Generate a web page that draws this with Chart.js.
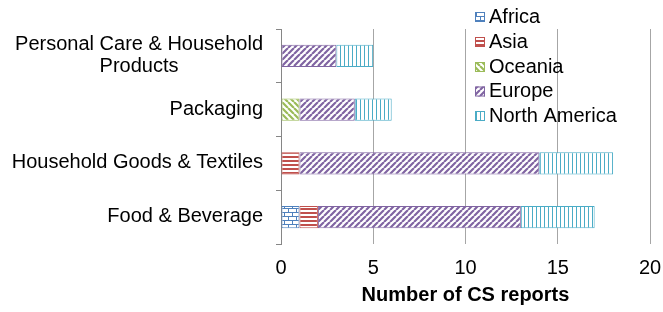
<!DOCTYPE html>
<html>
<head>
<meta charset="utf-8">
<script src="https://cdn.jsdelivr.net/npm/chart.js@4.4.0/dist/chart.umd.min.js"></script>
<style>
  html, body { margin: 0; padding: 0; background: #fff; }
  #wrap { width: 663px; height: 312px; }
</style>
</head>
<body>
<div id="wrap"><canvas id="chart" width="663" height="312"></canvas></div>
<script>
(function() {
    const categories = [
        ["Personal Care & Household", "Products"],
        "Packaging",
        "Household Goods & Textiles",
        "Food & Beverage"
    ];
    const seriesNames = ["Africa", "Asia", "Oceania", "Europe", "North America"];
    const africa = [0, 0, 0, 1];
    const asia = [0, 0, 1, 1];
    const oceania = [0, 1, 0, 0];
    const europe = [3, 3, 13, 11];
    const northAmerica = [2, 2, 4, 4];
    const xTicks = [0, 5, 10, 15, 20];

    const FONT = "'Liberation Sans', Arial, sans-serif";

    function makePattern(kind, color) {
        const size = { brick: 8, hlines: 4, vlines: 4, diagUp: 6, diagDown: 6 }[kind];
        const c = document.createElement("canvas");
        c.width = size;
        c.height = size;
        const g = c.getContext("2d");
        g.fillStyle = "#fff";
        g.fillRect(0, 0, size, size);
        g.fillStyle = color;
        g.strokeStyle = color;
        if (kind === "brick") {
            g.fillRect(0, 0, size, 1);
            g.fillRect(0, 4, size, 1);
            g.fillRect(0, 0, 1, 4);
            g.fillRect(4, 4, 1, 4);
        } else if (kind === "hlines") {
            g.fillRect(0, 0, size, 2);
        } else if (kind === "vlines") {
            g.fillRect(0, 0, 1, size);
        } else {
            g.lineWidth = 2.2;
            g.beginPath();
            for (let k of [-size, 0, size]) {
                if (kind === "diagUp") {
                    g.moveTo(k, size);
                    g.lineTo(k + size, 0);
                } else {
                    g.moveTo(k, 0);
                    g.lineTo(k + size, size);
                }
            }
            g.stroke();
        }
        return g.createPattern(c, "repeat");
    }

    const seriesValues = [africa, asia, oceania, europe, northAmerica];
    const seriesColors = ["#4F81BD", "#C0504D", "#9BBB59", "#8064A2", "#4BACC6"];
    const seriesKinds = ["brick", "hlines", "diagDown", "diagUp", "vlines"];
    const patterns = seriesKinds.map((k, i) => makePattern(k, seriesColors[i]));

    const datasets = seriesNames.map((name, i) => {
        return {
            label: name,
            data: seriesValues[i],
            backgroundColor: patterns[i],
            borderColor: seriesColors[i],
            borderWidth: (ctx) => ctx.raw ? 1 : 0,
            borderSkipped: false,
            categoryPercentage: 1,
            barPercentage: 0.41
        };
    });

    // legend drawn by hand so it can sit over the top-right of the plot
    const sideLegend = {
        id: "sideLegend",
        afterDraw(chart) {
            const ctx = chart.ctx;
            const rowY = [17, 42, 67, 91.5, 116];
            ctx.save();
            ctx.font = "20px " + FONT;
            ctx.textBaseline = "middle";
            ctx.textAlign = "left";
            chart.data.datasets.forEach((ds, i) => {
                const y = rowY[i];
                ctx.fillStyle = ds.backgroundColor;
                ctx.fillRect(475, y - 5, 10, 10);
                ctx.strokeStyle = ds.borderColor;
                ctx.lineWidth = 1;
                ctx.strokeRect(475.5, y - 4.5, 9, 9);
                ctx.fillStyle = "#000";
                ctx.fillText(ds.label, 489, y);
            });
            ctx.restore();
        }
    };

    // category labels: right edge fixed, extra lines centred under the first
    const categoryLabels = {
        id: "categoryLabels",
        afterDraw(chart) {
            const ctx = chart.ctx;
            const yScale = chart.scales.y;
            const lineHeight = 22;
            ctx.save();
            ctx.font = "20px " + FONT;
            ctx.fillStyle = "#000";
            ctx.textBaseline = "middle";
            ctx.textAlign = "center";
            chart.data.labels.forEach((label, i) => {
                const lines = Array.isArray(label) ? label : [label];
                const widest = Math.max(...lines.map((l) => ctx.measureText(l).width));
                const cx = 263 - widest / 2;
                const cy = yScale.getPixelForValue(i) - 0.5;
                const y0 = cy - (lines.length - 1) * lineHeight / 2;
                lines.forEach((line, j) => ctx.fillText(line, cx, y0 + j * lineHeight));
            });
            ctx.restore();
        }
    };

    new Chart(document.getElementById("chart"), {
        type: "bar",
        data: {
            labels: categories,
            datasets: datasets
        },
        options: {
            indexAxis: "y",
            responsive: false,
            animation: false,
            devicePixelRatio: 1,
            layout: {
                padding: { left: 0, top: 29, right: 2, bottom: 5 }
            },
            plugins: {
                legend: { display: false },
                tooltip: { enabled: false }
            },
            scales: {
                x: {
                    stacked: true,
                    min: 0,
                    max: 20,
                    afterBuildTicks: (scale) => {
                        scale.ticks = xTicks.map((v) => ({ value: v }));
                    },
                    afterFit: (scale) => {
                        scale.height = 63;
                        scale.paddingLeft = 0;
                        scale.paddingRight = 13;
                    },
                    border: { display: false },
                    grid: {
                        color: "#a6a6a6",
                        lineWidth: 1,
                        drawTicks: false
                    },
                    ticks: {
                        padding: 12,
                        color: "#000",
                        font: { family: FONT, size: 20 }
                    },
                    title: {
                        display: true,
                        text: "Number of CS reports",
                        color: "#000",
                        padding: { top: 0, bottom: 0 },
                        font: { family: FONT, size: 20, weight: "bold" }
                    }
                },
                y: {
                    stacked: true,
                    afterFit: (scale) => {
                        scale.width = 281;
                    },
                    border: { display: true, color: "#868686", width: 1 },
                    grid: {
                        offset: true,
                        drawOnChartArea: false,
                        drawTicks: true,
                        tickLength: 5,
                        color: "#868686"
                    },
                    ticks: { display: false }
                }
            }
        },
        plugins: [sideLegend, categoryLabels]
    });
})();
</script>
</body>
</html>
